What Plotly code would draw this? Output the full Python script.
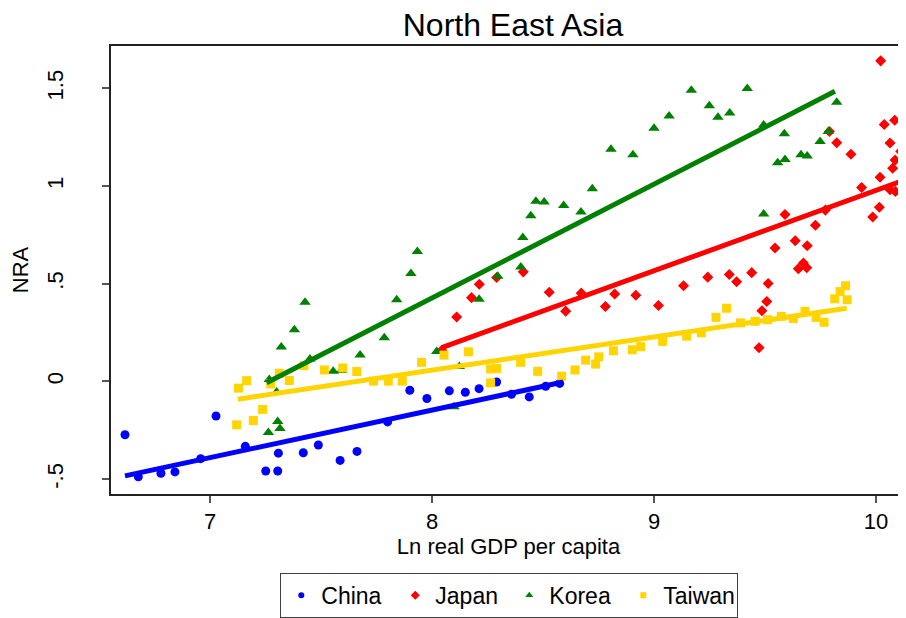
import plotly.graph_objects as go

# ---------------- data ----------------
china_x = [6.617, 6.677, 6.779, 6.842, 6.958, 7.027, 7.159, 7.251, 7.305, 7.308,
           7.420, 7.488, 7.586, 7.662, 7.800, 7.900, 7.977, 8.078, 8.150, 8.212,
           8.291, 8.358, 8.438, 8.512, 8.575]
china_y = [-0.273, -0.488, -0.470, -0.463, -0.395, -0.177, -0.332, -0.458, -0.458, -0.367,
           -0.365, -0.325, -0.404, -0.358, -0.207, -0.045, -0.087, -0.048, -0.055, -0.037,
           -0.003, -0.066, -0.079, -0.025, -0.010]

japan_x = [8.044, 8.111, 8.178, 8.213, 8.291, 8.411, 8.528, 8.602, 8.672, 8.781,
           8.823, 8.918, 9.020, 9.133, 9.242, 9.339, 9.372, 9.440, 9.514, 9.508,
           9.486, 9.473, 9.545, 9.590, 9.636, 9.650, 9.673, 9.688, 9.690, 9.727,
           9.772, 9.790, 9.823, 9.887, 9.935, 9.985, 10.015, 10.018, 10.021, 10.037,
           10.063, 10.063, 10.075, 10.084, 10.086, 10.087, 10.111]
japan_y = [0.160, 0.330, 0.429, 0.498, 0.532, 0.561, 0.457, 0.360, 0.452, 0.384,
           0.448, 0.441, 0.389, 0.490, 0.534, 0.547, 0.510, 0.557, 0.501, 0.409,
           0.362, 0.173, 0.683, 0.855, 0.720, 0.577, 0.606, 0.582, 0.695, 0.800,
           0.877, 1.279, 1.222, 1.163, 0.993, 0.842, 0.892, 1.045, 1.641, 1.315,
           1.221, 0.981, 1.091, 1.337, 1.133, 0.973, 1.178]

korea_x = [7.263, 7.267, 7.300, 7.305, 7.315, 7.321, 7.380, 7.428, 7.450, 7.555,
           7.593, 7.676, 7.785, 7.841, 7.905, 7.934, 8.021, 8.099, 8.123, 8.212,
           8.296, 8.400, 8.409, 8.445, 8.468, 8.505, 8.593, 8.671, 8.722, 8.806,
           8.905, 9.000, 9.068, 9.168, 9.249, 9.288, 9.341, 9.420, 9.494, 9.494,
           9.557, 9.587, 9.590, 9.662, 9.690, 9.748, 9.785, 9.823]
korea_y = [-0.261, 0.010, -0.054, -0.205, -0.241, 0.177, 0.265, 0.406, 0.115, 0.052,
           0.056, 0.136, 0.224, 0.418, 0.552, 0.665, 0.153, -0.130, 0.077, 0.421,
           0.539, 0.586, 0.737, 0.848, 0.922, 0.918, 0.901, 0.867, 0.987, 1.188,
           1.160, 1.296, 1.359, 1.490, 1.411, 1.352, 1.374, 1.500, 1.313, 0.857,
           1.119, 1.268, 1.136, 1.160, 1.154, 1.228, 1.279, 1.429]

taiwan_x = [7.120, 7.128, 7.165, 7.195, 7.237, 7.273, 7.312, 7.357, 7.423, 7.515,
            7.598, 7.661, 7.736, 7.803, 7.866, 7.953, 8.054, 8.164, 8.264, 8.291,
            8.264, 8.399, 8.476, 8.584, 8.644, 8.692, 8.737, 8.751, 8.817, 8.902,
            8.940, 9.039, 9.147, 9.213, 9.279, 9.327, 9.390, 9.455, 9.512, 9.573,
            9.627, 9.680, 9.730, 9.766, 9.814, 9.838, 9.863, 9.870]
taiwan_y = [-0.222, -0.034, 0.004, -0.200, -0.143, -0.012, 0.042, 0.005, 0.081, 0.059,
            0.069, 0.051, 0.002, 0.002, 0.002, 0.098, 0.135, 0.152, 0.064, 0.067,
            -0.007, 0.098, 0.052, 0.027, 0.059, 0.109, 0.089, 0.126, 0.157, 0.162,
            0.178, 0.205, 0.232, 0.249, 0.328, 0.375, 0.300, 0.308, 0.316, 0.333,
            0.322, 0.359, 0.328, 0.303, 0.423, 0.460, 0.490, 0.418]

# fitted-line end points
china_fit_x, china_fit_y = [6.617, 8.590], [-0.483, -0.003]
japan_fit_x, japan_fit_y = [8.044, 10.108], [0.173, 1.023]
korea_fit_x, korea_fit_y = [7.255, 9.815], [-0.007, 1.485]
taiwan_fit_x, taiwan_fit_y = [7.125, 9.868], [-0.091, 0.375]

x_ticks = [7, 8, 9, 10]
y_ticks = [-0.5, 0, 0.5, 1, 1.5]
y_tick_labels = ["-.5", "0", ".5", "1", "1.5"]

names = ["China", "Japan", "Korea", "Taiwan"]
colors = ["#0000ff", "#ff0000", "#008000", "#ffd400"]
symbols = ["circle", "diamond", "triangle-up", "square"]
sizes = [9, 8.5, 10, 9]
legend_sizes = [6, 7, 7, 6]

FONT = "Arial, 'Liberation Sans', Helvetica, sans-serif"

# the page body adds an 8px margin; figure is sized so the plot lands where the reference has it
PAGE_OFF = 8
W, H = 906 - PAGE_OFF, 618 - PAGE_OFF

fig = go.Figure()
series = [(china_x, china_y), (japan_x, japan_y), (korea_x, korea_y), (taiwan_x, taiwan_y)]
for (xs, ys), c, s, sz, n in zip(series, colors, symbols, sizes, names):
    fig.add_trace(go.Scatter(x=xs, y=ys, mode="markers", name=n, showlegend=False,
                             marker=dict(color=c, symbol=s, size=sz, line=dict(width=0))))

fits = [(china_fit_x, china_fit_y), (japan_fit_x, japan_fit_y),
        (korea_fit_x, korea_fit_y), (taiwan_fit_x, taiwan_fit_y)]
for (xs, ys), c in zip(fits, colors):
    fig.add_trace(go.Scatter(x=xs, y=ys, mode="lines", showlegend=False, hoverinfo="skip",
                             line=dict(color=c, width=5)))

# legend-only entries with small symbols
for c, s, sz, n in zip(colors, symbols, legend_sizes, names):
    fig.add_trace(go.Scatter(x=[None], y=[None], mode="markers", name=n,
                             marker=dict(color=c, symbol=s, size=sz, line=dict(width=0))))

fig.update_layout(
    width=W, height=H,
    margin=dict(l=111 - PAGE_OFF, r=0, t=46 - PAGE_OFF, b=118),
    paper_bgcolor="white", plot_bgcolor="white",
    font=dict(family=FONT, size=22, color="black"),
    title=dict(text="North East Asia", font=dict(size=32, color="black"),
               x=(513 - PAGE_OFF) / W, xanchor="center", xref="container",
               y=1 - (25 - PAGE_OFF) / H, yanchor="middle", yref="container"),
    showlegend=True,
    legend=dict(orientation="h", x=0.501, xanchor="center", y=-0.176, yanchor="top",
                bordercolor="#404040", borderwidth=1, bgcolor="white",
                font=dict(size=23), itemwidth=30, tracegroupgap=0,
                entrywidth=69, entrywidthmode="pixels"),
)

fig.update_xaxes(range=[6.554, 10.135], tickvals=x_ticks, ticktext=[str(v) for v in x_ticks],
                 showgrid=False, zeroline=False, showline=True, linecolor="#222", linewidth=1.5,
                 mirror=True, ticks="outside", ticklen=7, tickcolor="#555", tickwidth=1.5,
                 tickfont=dict(size=22), ticklabelstandoff=0, automargin=False,
                 title=dict(text="Ln real GDP per capita", font=dict(size=22), standoff=0))
fig.update_yaxes(range=[-0.576, 1.717], tickvals=y_ticks, ticktext=y_tick_labels,
                 showgrid=False, zeroline=False, showline=True, linecolor="#222", linewidth=1.5,
                 ticks="outside", ticklen=7, tickcolor="#555", tickwidth=1.5, tickangle=-90,
                 tickfont=dict(size=22), ticklabelstandoff=30, automargin=False,
                 title=dict(text="NRA", font=dict(size=22), standoff=18))

fig.write_html("out.html")
